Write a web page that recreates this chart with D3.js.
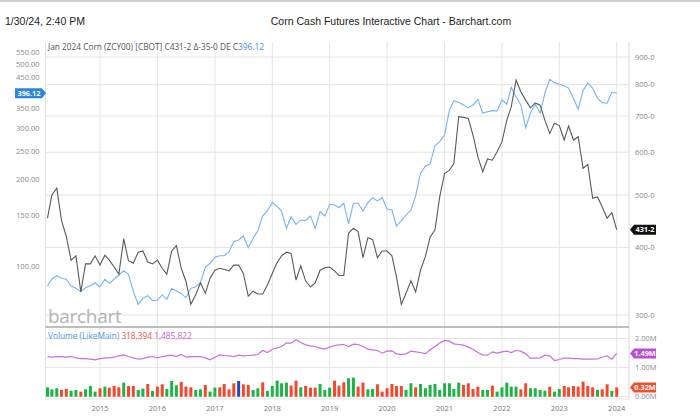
<!DOCTYPE html>
<html>
<head>
<meta charset="utf-8">
<script src="https://cdn.jsdelivr.net/npm/d3@7"></script>
<style>
  html, body { margin: 0; padding: 0; background: #fff; }
  svg { display: block; }
</style>
</head>
<body>
<svg id="chart" width="700" height="416"></svg>
<script>
// ---------------- DATA ----------------
const firstMonth = new Date(2014, 1, 1);   // Feb 2014
const lastMonth  = new Date(2024, 0, 1);   // Jan 2024

// Corn cash price (right axis, cents/bu) - black line
const cashPrice = [
  453, 500, 515, 449, 419, 379, 386, 331, 373, 373, 386,
  371, 387, 379, 368, 357, 415, 378, 374, 392, 394, 376, 373,
  379, 366, 357, 394, 403, 366, 346, 314, 327, 344, 329, 351,
  363, 366, 364, 362, 371, 371, 358, 325, 332, 328, 328, 341,
  358, 375, 386, 392, 390, 348, 370, 347, 338, 344, 363, 367,
  368, 362, 355, 355, 425, 434, 428, 383, 417, 414, 383, 394,
  394, 386, 353, 314, 329, 347, 331, 363, 385, 418, 431, 496,
  548, 556, 572, 698, 696, 693, 645, 588, 552, 583, 580, 601,
  627, 688, 728, 816, 776, 749, 725, 740, 733, 688, 650, 679,
  672, 632, 671, 632, 641, 560, 570, 493, 496, 475, 453, 464,
  431.25
];

// Second price series (left axis) - blue line
const bluePrice = [
  85.3, 90.2, 92.6, 90.7, 90.0, 85.3, 83.7, 81.5, 84.1, 85.5, 87.5,
  84.8, 90.0, 87.1, 90.0, 93.1, 96.3, 93.6, 81.5, 73.7, 77.3, 78.9, 75.9,
  76.3, 79.4, 76.7, 83.7, 81.9, 80.4, 77.7, 83.7, 84.8, 87.5, 99.0, 102.2,
  107.2, 108.5, 108.5, 112.1, 121.4, 123.0, 127.0, 115.7, 124.7, 132.4, 148.9, 155.4,
  165.6, 160.4, 155.0, 135.0, 148.1, 139.4, 144.3, 143.5, 148.9, 135.0, 154.2, 148.9,
  163.5, 162.6, 159.1, 164.8, 139.8, 164.8, 164.8, 155.0, 165.6, 172.3, 167.9, 172.3,
  157.5, 156.2, 137.5, 143.5, 150.1, 156.2, 174.7, 209.4, 221.3, 225.4, 261.2, 269.2,
  284.0, 346.5, 373.3, 368.5, 360.7, 353.0, 360.7, 377.4, 337.6, 341.9, 344.7, 343.8,
  375.3, 362.7, 415.3, 385.3, 360.7, 301.1, 337.6, 362.7, 337.6, 395.9, 442.6, 430.9,
  425.4, 420.7, 412.1, 380.4, 348.5, 404.2, 430.9, 412.1, 380.4, 367.4, 365.6, 399.0,
  396.12
];

// Monthly volume (contracts)
const volume = [
  323000, 254000, 289000, 231000, 266000, 208000, 231000, 174000, 254000, 369000, 174000,
  289000, 346000, 311000, 369000, 323000, 484000, 369000, 369000, 231000, 277000, 438000, 197000,
  346000, 426000, 266000, 541000, 392000, 507000, 346000, 323000, 231000, 254000, 403000, 174000,
  311000, 323000, 438000, 254000, 461000, 541000, 426000, 403000, 231000, 289000, 495000, 197000,
  369000, 553000, 461000, 484000, 380000, 553000, 323000, 369000, 311000, 311000, 438000, 231000,
  311000, 553000, 380000, 495000, 633000, 656000, 346000, 484000, 254000, 266000, 426000, 174000,
  289000, 438000, 369000, 369000, 231000, 461000, 323000, 438000, 289000, 403000, 438000, 231000,
  461000, 461000, 266000, 484000, 403000, 461000, 266000, 346000, 231000, 231000, 380000, 174000,
  323000, 484000, 346000, 346000, 254000, 461000, 289000, 289000, 231000, 208000, 346000, 174000,
  266000, 369000, 323000, 369000, 346000, 518000, 369000, 323000, 231000, 254000, 426000, 197000,
  318394
];

// Bar direction: u = up (green), d = down (red), n = unchanged (blue)
const volDir = [
  'u','u','u','d','d','u','u','d','u','u','u',
  'd','u','d','d','d','u','d','d','u','u','d','u',
  'd','d','u','u','u','d','d','d','u','u','d','u',
  'u','d','d','d','d','n','d','d','u','u','d','u',
  'u','u','u','u','d','d','u','d','d','d','u','u',
  'u','d','d','d','u','u','d','d','u','u','d','d',
  'd','d','d','d','u','u','d','u','u','u','u','u',
  'u','u','u','u','d','d','d','d','u','u','d','u',
  'u','u','u','u','d','d','u','u','u','u','d','u',
  'u','d','d','d','d','d','d','d','u','d','d','u',
  'd'
];

// Open interest (purple line)
const openInterest = [
  1380000, 1357000, 1380000, 1380000, 1357000, 1380000, 1334000, 1311000, 1311000, 1288000, 1266000,
  1311000, 1334000, 1334000, 1357000, 1403000, 1438000, 1380000, 1334000, 1288000, 1311000, 1357000, 1380000,
  1334000, 1380000, 1403000, 1426000, 1380000, 1449000, 1357000, 1380000, 1380000, 1380000, 1334000, 1266000,
  1357000, 1438000, 1415000, 1403000, 1380000, 1426000, 1403000, 1415000, 1426000, 1449000, 1587000, 1518000,
  1633000, 1679000, 1725000, 1841000, 1841000, 1955000, 1863000, 1783000, 1748000, 1725000, 1668000, 1633000,
  1702000, 1760000, 1783000, 1794000, 1725000, 1806000, 1794000, 1725000, 1633000, 1610000, 1587000, 1495000,
  1564000, 1576000, 1472000, 1449000, 1472000, 1564000, 1541000, 1518000, 1472000, 1610000, 1725000, 1841000,
  1932000, 1909000, 1817000, 1794000, 1771000, 1702000, 1633000, 1518000, 1438000, 1426000, 1541000, 1495000,
  1541000, 1564000, 1518000, 1587000, 1564000, 1472000, 1323000, 1323000, 1334000, 1426000, 1403000, 1243000,
  1277000, 1323000, 1323000, 1311000, 1311000, 1288000, 1288000, 1288000, 1300000, 1357000, 1403000, 1288000,
  1485822
];

const leftTicks   = [100, 150, 200, 250, 300, 350, 450, 500, 550];
const rightTicks  = [300, 400, 500, 600, 700, 800, 900];
const volTicks    = [0, 1000000, 2000000];
const yearTicks   = [2015, 2016, 2017, 2018, 2019, 2020, 2021, 2022, 2023, 2024];

const headerDate  = "1/30/24, 2:40 PM";
const headerTitle = "Corn Cash Futures Interactive Chart - Barchart.com";
const legendMain  = "Jan 2024 Corn (ZCY00) [CBOT] C431-2 \u0394-35-0 DE C";
const legendLast  = "396.12";

// ---------------- LAYOUT ----------------
const months = d3.timeMonth.range(firstMonth, d3.timeMonth.offset(lastMonth, 1));
const svg = d3.select("#chart");
const font = "'Open Sans', 'Noto Sans', sans-serif";

const plotL = 45.5, plotR = 629;
const mainT = 42, mainB = 327;
const volT = 327, volB = 399;

const x = d3.scaleTime()
  .domain([new Date(2015, 0, 1), new Date(2024, 0, 1)])
  .range([100, 616.7]);
const yR = d3.scaleLog().domain([300, 900]).range([315, 57]);
const yL = d3.scaleLog().domain([100, 550]).range([266, 52]);
const yV = d3.scaleLinear().domain([0, 2000000]).range([396.7, 338.5]);

// top grey strip
svg.append("rect").attr("x", 0).attr("y", 0).attr("width", 700).attr("height", 2).attr("fill", "#d0d0d0");

// header
svg.append("text").attr("x", 5).attr("y", 25)
  .attr("font-family", "'Liberation Sans', Arial, sans-serif").attr("font-size", 10.5)
  .attr("fill", "#222").text(headerDate);
svg.append("text").attr("x", 391).attr("y", 25).attr("text-anchor", "middle")
  .attr("font-family", "'Liberation Sans', Arial, sans-serif").attr("font-size", 10.5)
  .attr("fill", "#222").text(headerTitle);

const grid = svg.append("g").attr("stroke", "#e4e4e4").attr("stroke-width", 1);

// horizontal grid (main)
grid.selectAll(".hg").data(rightTicks).join("line")
  .attr("x1", plotL).attr("x2", plotR)
  .attr("y1", d => yR(d)).attr("y2", d => yR(d));
// horizontal grid (volume)
grid.selectAll(".vg").data(volTicks).join("line")
  .attr("x1", plotL).attr("x2", plotR)
  .attr("y1", d => yV(d)).attr("y2", d => yV(d));
// vertical grid
grid.selectAll(".yg").data(yearTicks).join("line")
  .attr("x1", d => x(new Date(d, 0, 1))).attr("x2", d => x(new Date(d, 0, 1)))
  .attr("y1", mainT).attr("y2", volB);
// borders
grid.append("line").attr("x1", plotL).attr("x2", plotL).attr("y1", mainT).attr("y2", volB);
grid.append("line").attr("x1", plotR).attr("x2", plotR).attr("y1", mainT).attr("y2", volB).attr("stroke", "#d8d8d8");
grid.append("line").attr("x1", plotL).attr("x2", plotR).attr("y1", volB).attr("y2", volB);

// watermark
svg.append("text").attr("x", 48).attr("y", 323)
  .attr("font-family", font).attr("font-size", 19).attr("fill", "#b3b3b3")
  .attr("letter-spacing", -0.3).text("barchart");

// clip
svg.append("clipPath").attr("id", "clipMain").append("rect")
  .attr("x", plotL).attr("y", mainT).attr("width", plotR - plotL).attr("height", mainB - mainT);

const mainG = svg.append("g").attr("clip-path", "url(#clipMain)");

const lineBlue = d3.line().x((d, i) => x(months[i])).y(d => yL(d));
const lineBlack = d3.line().x((d, i) => x(months[i])).y(d => yR(d));

mainG.append("path").datum(bluePrice).attr("d", lineBlue)
  .attr("fill", "none").attr("stroke", "#74b4f3").attr("stroke-width", 1.1);
mainG.append("path").datum(cashPrice).attr("d", lineBlack)
  .attr("fill", "none").attr("stroke", "#5a5a5a").attr("stroke-width", 1.1);

// separator
svg.append("line").attr("x1", plotL).attr("x2", plotR).attr("y1", mainB).attr("y2", mainB)
  .attr("stroke", "#a8a8a8").attr("stroke-width", 1.5);

// legend main
const leg = svg.append("text").attr("x", 48).attr("y", 50)
  .attr("font-family", font).attr("font-size", 8.3).attr("fill", "#555");
leg.append("tspan").text(legendMain);
leg.append("tspan").attr("fill", "#3d8fe0").text(legendLast);

// left axis labels
svg.append("g").selectAll("text").data(leftTicks).join("text")
  .attr("x", 39.5).attr("y", d => yL(d)).attr("dy", "0.35em").attr("text-anchor", "end")
  .attr("font-family", font).attr("font-size", 7.5).attr("fill", "#888")
  .text(d => d3.format(".2f")(d));

// right axis labels
svg.append("g").selectAll("text").data(rightTicks).join("text")
  .attr("x", 635).attr("y", d => yR(d)).attr("dy", "0.35em")
  .attr("font-family", font).attr("font-size", 7.5).attr("fill", "#888")
  .text(d => d + "-0");

// volume axis labels
svg.append("g").selectAll("text").data(volTicks).join("text")
  .attr("x", 635).attr("y", d => yV(d)).attr("dy", "0.35em")
  .attr("font-family", font).attr("font-size", 7.5).attr("fill", "#888")
  .text(d => d3.format(".2f")(d / 1e6) + "M");

// year labels
svg.append("g").selectAll("text").data(yearTicks).join("text")
  .attr("x", d => x(new Date(d, 0, 1))).attr("y", 408).attr("dy", "0.35em").attr("text-anchor", "middle")
  .attr("font-family", font).attr("font-size", 7.5).attr("fill", "#777")
  .text(d => d);

// volume bars
const dirColor = { u: "#1db446", d: "#f5472c", n: "#2447c0" };
svg.append("g").selectAll("rect").data(volume).join("rect")
  .attr("x", (d, i) => x(months[i]) - 1.5)
  .attr("width", 3)
  .attr("y", d => yV(d))
  .attr("height", d => yV(0) - yV(d))
  .attr("fill", (d, i) => dirColor[volDir[i]]);

// open interest
svg.append("path").datum(openInterest)
  .attr("d", d3.line().x((d, i) => x(months[i])).y(d => yV(d)))
  .attr("fill", "none").attr("stroke", "#cc6ee0").attr("stroke-width", 1.2);

// volume legend
const vleg = svg.append("text").attr("x", 48).attr("y", 338.5)
  .attr("font-family", font).attr("font-size", 8.3);
vleg.append("tspan").attr("fill", "#4a97e8").text("Volume  (LikeMain) ");
vleg.append("tspan").attr("fill", "#f25c44").text(d3.format(",")(volume[volume.length - 1]) + " ");
vleg.append("tspan").attr("fill", "#c35fd8").text(d3.format(",")(openInterest[openInterest.length - 1]));

// value tags
function rightTag(yv, label, color) {
  const g = svg.append("g");
  const h = 10, x0 = 630, w = 26;
  g.append("path")
    .attr("d", `M${x0},${yv} L${x0 + 4},${yv - h / 2} L${x0 + w},${yv - h / 2} L${x0 + w},${yv + h / 2} L${x0 + 4},${yv + h / 2} Z`)
    .attr("fill", color);
  g.append("text").attr("x", x0 + 4 + (w - 4) / 2).attr("y", yv).attr("dy", "0.35em")
    .attr("text-anchor", "middle").attr("font-family", font).attr("font-size", 7.3)
    .attr("font-weight", "bold").attr("fill", "#fff").text(label);
}
const lastCash = cashPrice[cashPrice.length - 1];
rightTag(yR(lastCash), Math.floor(lastCash) + "-" + Math.round((lastCash % 1) * 8), "#111");
rightTag(yV(openInterest[openInterest.length - 1]), d3.format(".2f")(openInterest[openInterest.length - 1] / 1e6) + "M", "#b84fd4");
rightTag(yV(volume[volume.length - 1]) + 0, d3.format(".2f")(volume[volume.length - 1] / 1e6) + "M", "#f24e2a");

// left tag for blue series
{
  const lastBlue = bluePrice[bluePrice.length - 1];
  const yv = yL(lastBlue), h = 10;
  const g = svg.append("g");
  g.append("path")
    .attr("d", `M15,${yv - h / 2} L42,${yv - h / 2} L46,${yv} L42,${yv + h / 2} L15,${yv + h / 2} Z`)
    .attr("fill", "#2a86e0");
  g.append("text").attr("x", 29).attr("y", yv).attr("dy", "0.35em").attr("text-anchor", "middle")
    .attr("font-family", font).attr("font-size", 7.3).attr("font-weight", "bold").attr("fill", "#fff")
    .text(d3.format(".2f")(lastBlue));
}
</script>
</body>
</html>
